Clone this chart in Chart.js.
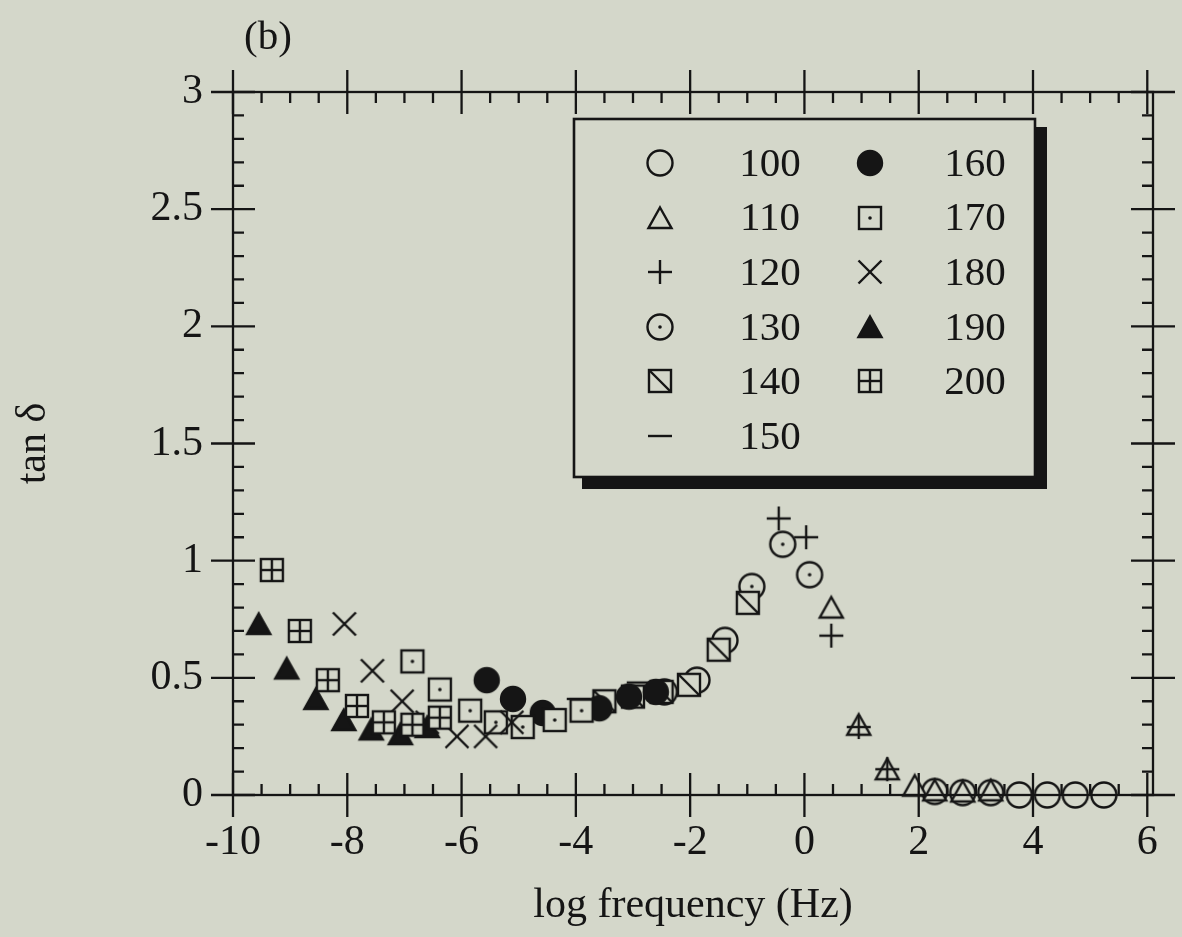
<!DOCTYPE html>
<html>
<head>
<meta charset="utf-8">
<script src="https://cdn.jsdelivr.net/npm/chart.js@4.4.1/dist/chart.umd.min.js"></script>
<style>
  html, body { margin: 0; padding: 0; background: #d4d7ca; }
  canvas { display: block; }
</style>
</head>
<body>
<canvas id="chart" width="1182" height="937"></canvas>
<script>
// Axis ticks
const xTickValues = [-10, -8, -6, -4, -2, 0, 2, 4, 6];
const xTickLabels = ['-10', '-8', '-6', '-4', '-2', '0', '2', '4', '6'];
const yTickValues = [0, 0.5, 1, 1.5, 2, 2.5, 3];
const yTickLabels = ['0', '0.5', '1', '1.5', '2', '2.5', '3'];

// Temperatures (series labels)
const temperatures = ['100', '110', '120', '130', '140', '150', '160', '170', '180', '190', '200'];

// tan delta versus log frequency, one pair of arrays per temperature
const x100 = [2.28, 2.77, 3.26, 3.76, 4.25, 4.74, 5.24];
const y100 = [0.015, 0.01, 0.01, 0.0, 0.0, 0.0, 0.0];

const x110 = [0.47, 0.95, 1.45, 1.93, 2.28, 2.77, 3.26];
const y110 = [0.80, 0.30, 0.11, 0.04, 0.02, 0.015, 0.02];

const x120 = [-0.45, 0.03, 0.47, 0.95, 1.45];
const y120 = [1.18, 1.10, 0.68, 0.29, 0.11];

const x130 = [-2.45, -1.88, -1.39, -0.92, -0.38, 0.09];
const y130 = [0.44, 0.49, 0.66, 0.89, 1.07, 0.94];

const x140 = [-3.5, -3.0, -2.5, -2.02, -1.5, -0.99];
const y140 = [0.40, 0.42, 0.44, 0.47, 0.62, 0.82];

const x150 = [-3.95, -2.9];
const y150 = [0.41, 0.48];

const x160 = [-5.56, -5.1, -4.58, -3.59, -3.07, -2.6];
const y160 = [0.49, 0.41, 0.35, 0.37, 0.42, 0.44];

const x170 = [-6.86, -6.38, -5.85, -5.4, -4.93, -4.37, -3.9];
const y170 = [0.57, 0.45, 0.36, 0.31, 0.29, 0.32, 0.36];

const x180 = [-8.05, -7.56, -7.04, -6.6, -6.08, -5.58, -5.12];
const y180 = [0.73, 0.53, 0.40, 0.31, 0.25, 0.25, 0.31];

const x190 = [-9.55, -9.06, -8.55, -8.06, -7.58, -7.07, -6.6];
const y190 = [0.73, 0.54, 0.41, 0.32, 0.28, 0.26, 0.29];

const x200 = [-9.32, -8.83, -8.34, -7.83, -7.36, -6.86, -6.38];
const y200 = [0.96, 0.70, 0.49, 0.38, 0.31, 0.30, 0.33];

const INK = '#151515';
const PAPER = '#d4d7ca';
const SERIF = '"Liberation Serif", "Times New Roman", Times, serif';

// Plot symbols drawn once onto small canvases and used as point styles
function makeSymbol(kind) {
  const S = 34, c = S / 2, r = 12.5, h = 11;
  const cv = document.createElement('canvas');
  cv.width = S; cv.height = S;
  const g = cv.getContext('2d');
  g.lineWidth = 2.4;
  g.strokeStyle = INK;
  g.fillStyle = PAPER;
  const line = (x1, y1, x2, y2) => { g.beginPath(); g.moveTo(x1, y1); g.lineTo(x2, y2); g.stroke(); };
  const dot = () => { g.fillStyle = INK; g.beginPath(); g.arc(c, c, 1.8, 0, Math.PI * 2); g.fill(); };
  const tri = (fill) => {
    g.beginPath();
    g.moveTo(c, c - 10.5);
    g.lineTo(c + 11.5, c + 10);
    g.lineTo(c - 11.5, c + 10);
    g.closePath();
    g.fillStyle = fill;
    g.fill();
    g.lineJoin = 'miter';
    g.stroke();
  };
  switch (kind) {
    case 'circle':
    case 'circleDot':
      g.beginPath(); g.arc(c, c, r, 0, Math.PI * 2); g.fill(); g.stroke();
      if (kind === 'circleDot') dot();
      break;
    case 'disc':
      g.fillStyle = INK; g.beginPath(); g.arc(c, c, r + 0.7, 0, Math.PI * 2); g.fill();
      break;
    case 'triangle': tri(PAPER); break;
    case 'triangleFill': tri(INK); break;
    case 'plus':
      line(c - 12, c, c + 12, c); line(c, c - 12, c, c + 12);
      break;
    case 'cross':
      line(c - 11.5, c - 11.5, c + 11.5, c + 11.5); line(c - 11.5, c + 11.5, c + 11.5, c - 11.5);
      break;
    case 'dash':
      line(c - 12, c, c + 12, c);
      break;
    default: // square variants
      g.fillRect(c - h, c - h, 2 * h, 2 * h);
      g.strokeRect(c - h, c - h, 2 * h, 2 * h);
      if (kind === 'squareDot') dot();
      if (kind === 'squareSlash') line(c - h, c - h, c + h, c + h);
      if (kind === 'squareGrid') { line(c - h, c, c + h, c); line(c, c - h, c, c + h); }
  }
  return cv;
}

const symbolKinds = ['circle', 'triangle', 'plus', 'circleDot', 'squareSlash', 'dash',
                     'disc', 'squareDot', 'cross', 'triangleFill', 'squareGrid'];
const seriesX = [x100, x110, x120, x130, x140, x150, x160, x170, x180, x190, x200];
const seriesY = [y100, y110, y120, y130, y140, y150, y160, y170, y180, y190, y200];

const datasets = temperatures.map((t, i) => ({
  label: t,
  data: seriesX[i].map((x, j) => ({ x: x, y: seriesY[i][j] })),
  pointStyle: makeSymbol(symbolKinds[i]),
  pointRadius: 12,
  pointHoverRadius: 12,
  showLine: false,
  clip: false,
  order: temperatures.length - i   // higher temperatures are drawn on top
}));

// Frame with inward ticks on all four sides, boxed key and panel tag
const framePlugin = {
  id: 'frame',
  beforeDraw(chart) {
    const { ctx, width, height } = chart;
    ctx.save();
    ctx.fillStyle = PAPER;
    ctx.fillRect(0, 0, width, height);
    ctx.restore();
  },
  afterDraw(chart) {
    const { ctx, chartArea: a, scales: { x, y } } = chart;
    const MAJ = 22, MIN = 11;
    ctx.save();
    ctx.strokeStyle = INK;
    ctx.lineWidth = 2.3;
    ctx.strokeRect(a.left, a.top, a.right - a.left, a.bottom - a.top);
    ctx.beginPath();
    // x ticks every 0.5, long ones at labelled values
    for (let k = 0; k <= 32; k++) {
      const v = -10 + k * 0.5;
      const px = x.getPixelForValue(v);
      if (xTickValues.includes(v)) {
        ctx.moveTo(px, a.bottom + MAJ); ctx.lineTo(px, a.bottom - MAJ);
        ctx.moveTo(px, a.top - MAJ); ctx.lineTo(px, a.top + MAJ);
      } else {
        ctx.moveTo(px, a.bottom); ctx.lineTo(px, a.bottom - MIN);
        ctx.moveTo(px, a.top); ctx.lineTo(px, a.top + MIN);
      }
    }
    // y ticks every 0.1, long ones every 0.5
    for (let k = 0; k <= 30; k++) {
      const v = k / 10;
      const py = y.getPixelForValue(v);
      if (k % 5 === 0) {
        ctx.moveTo(a.left - MAJ, py); ctx.lineTo(a.left + MAJ, py);
        ctx.moveTo(a.right - MAJ, py); ctx.lineTo(a.right + MAJ, py);
      } else {
        ctx.moveTo(a.left, py); ctx.lineTo(a.left + MIN, py);
        ctx.moveTo(a.right, py); ctx.lineTo(a.right - MIN, py);
      }
    }
    ctx.stroke();

    // Key box with heavy drop shadow
    const K = { left: 574, top: 119, right: 1035, bottom: 477, sh: 12 };
    ctx.fillStyle = INK;
    ctx.fillRect(K.left + 8, K.bottom, K.right - K.left + K.sh - 8, K.sh);
    ctx.fillRect(K.right, K.top + 8, K.sh, K.bottom - K.top + K.sh - 8);
    ctx.fillStyle = PAPER;
    ctx.fillRect(K.left, K.top, K.right - K.left, K.bottom - K.top);
    ctx.lineWidth = 2.6;
    ctx.strokeRect(K.left, K.top, K.right - K.left, K.bottom - K.top);

    const cols = [{ mx: 660, tx: 770 }, { mx: 870, tx: 975 }];
    const row0 = 163, dy = 54.6;
    ctx.font = '41px ' + SERIF;
    ctx.textAlign = 'center';
    ctx.textBaseline = 'middle';
    chart.data.datasets.forEach((ds, i) => {
      const col = cols[i < 6 ? 0 : 1];
      const ry = row0 + (i < 6 ? i : i - 6) * dy;
      const sym = ds.pointStyle;
      ctx.drawImage(sym, Math.round(col.mx - sym.width / 2), Math.round(ry - sym.height / 2));
      ctx.fillStyle = INK;
      ctx.fillText(ds.label, col.tx, ry + 2);
    });

    ctx.font = '41px ' + SERIF;
    ctx.fillText('(b)', 268, 38);
    ctx.restore();
  }
};

new Chart(document.getElementById('chart'), {
  type: 'scatter',
  data: { datasets: datasets },
  plugins: [framePlugin],
  options: {
    responsive: false,
    animation: false,
    devicePixelRatio: 1,
    layout: { padding: { top: 92, right: 29, left: 0, bottom: 0 } },
    plugins: { legend: { display: false }, tooltip: { enabled: false } },
    scales: {
      x: {
        type: 'linear',
        position: 'bottom',
        min: -10,
        max: 6.1,
        grid: { display: false, drawTicks: false },
        border: { display: false },
        afterBuildTicks: (s) => { s.ticks = xTickValues.map(v => ({ value: v })); },
        afterFit: (s) => { s.height = 142; },
        ticks: {
          autoSkip: false,
          maxRotation: 0,
          padding: 23,
          color: INK,
          font: { family: SERIF, size: 42 },
          callback: (v) => xTickLabels[xTickValues.indexOf(v)]
        },
        title: {
          display: true,
          text: 'log frequency (Hz)',
          color: INK,
          font: { family: SERIF, size: 42 },
          padding: { top: 0, bottom: 6 }
        }
      },
      y: {
        type: 'linear',
        min: 0,
        max: 3,
        grid: { display: false, drawTicks: false },
        border: { display: false },
        afterBuildTicks: (s) => { s.ticks = yTickValues.map(v => ({ value: v })); },
        afterFit: (s) => { s.width = 233; },
        ticks: {
          autoSkip: false,
          padding: 30,
          color: INK,
          font: { family: SERIF, size: 42 },
          callback: (v) => yTickLabels[yTickValues.indexOf(v)]
        },
        title: {
          display: true,
          text: 'tan δ',
          color: INK,
          font: { family: SERIF, size: 42 },
          padding: { top: 9, bottom: 0 }
        }
      }
    }
  }
});
</script>
</body>
</html>
